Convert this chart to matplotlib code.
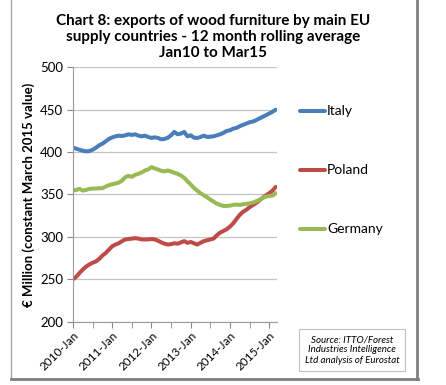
import matplotlib.pyplot as plt
from matplotlib.lines import Line2D
from matplotlib.patches import Rectangle

# Monthly 12-month rolling averages, Jan 2010 .. Mar 2015 (63 months)
italy = [405.2, 404.0, 402.8, 401.6, 400.9, 401.2, 402.8, 405.2, 408.0, 409.9,
         412.7, 415.5, 417.4, 418.6, 419.4, 419.0, 419.8, 421.0, 420.2, 421.0,
         419.4, 418.6, 419.4, 417.8, 416.7, 417.4, 416.7, 415.1, 415.5, 417.0,
         419.8, 423.8, 421.0, 421.8, 423.8, 418.6, 419.8, 417.0, 416.7, 417.8,
         419.4, 417.8, 418.2, 418.6, 419.8, 421.0, 422.6, 424.9, 425.7, 427.7,
         428.5, 430.5, 432.1, 433.6, 435.2, 436.0, 437.6, 439.6, 441.5, 443.5,
         445.5, 447.5, 450.0]
poland = [250.0, 253.0, 257.5, 261.5, 265.0, 267.5, 269.5, 271.0, 274.0, 278.0,
          281.0, 285.0, 289.0, 291.0, 292.5, 295.0, 297.0, 297.5, 298.0, 298.5,
          298.0, 297.0, 297.0, 297.0, 297.5, 297.0, 295.5, 293.5, 292.0, 291.0,
          291.5, 292.5, 292.0, 293.5, 295.0, 293.0, 294.0, 292.5, 291.0, 293.0,
          295.0, 296.0, 297.0, 298.0, 302.0, 305.0, 307.0, 309.0, 312.0, 316.0,
          321.0, 326.0, 329.5, 332.0, 335.0, 337.5, 340.0, 343.0, 346.0, 349.0,
          351.5, 354.5, 359.0]
germany = [354.6, 355.4, 356.6, 354.6, 355.4, 356.6, 357.0, 357.0, 357.4, 357.4,
           359.4, 361.0, 362.1, 363.0, 364.1, 366.5, 370.4, 372.0, 370.8, 373.2,
           374.4, 376.0, 378.3, 379.5, 382.3, 380.7, 379.5, 378.0, 377.2, 378.3,
           377.2, 375.6, 374.4, 372.4, 369.7, 365.7, 361.8, 357.8, 354.6, 351.5,
           349.1, 346.7, 344.0, 341.6, 339.2, 337.7, 336.5, 336.5, 336.9, 337.7,
           338.1, 337.7, 338.5, 338.9, 339.6, 340.4, 342.0, 343.6, 346.0, 347.5,
           348.3, 348.7, 351.5]
series_names = ["Italy", "Poland", "Germany"]
series_colors = ["#4a7ebb", "#be4b48", "#98b954"]
tick_labels = ["2010-Jan", "2011-Jan", "2012-Jan", "2013-Jan", "2014-Jan", "2015-Jan"]
months = list(range(len(italy)))

plt.rcParams['font.family'] = ['Lato', 'DejaVu Sans']

fig = plt.figure(figsize=(4.46, 3.85), dpi=100)
W, H = 446, 385
ax = fig.add_axes([73 / W, 1 - 321.7 / H, (277 - 73) / W, (321.7 - 67.3) / H])

for vals, name, col in zip([italy, poland, germany], series_names, series_colors):
    ax.plot(months, vals, color=col, lw=2.9, label=name, solid_capstyle='round')

ax.set_xlim(0, 62.4)
ax.set_ylim(200, 500)
ax.set_yticks(range(200, 501, 50))
ax.set_xticks(range(0, 61, 12))
ax.set_xticks(range(6, 61, 12), minor=True)
ax.set_xticklabels(tick_labels, rotation=45, ha='right', rotation_mode='anchor', fontsize=8.5)
ax.tick_params(axis='y', labelsize=9.5, length=4, color='#888888', pad=3)
ax.tick_params(axis='x', which='both', length=4, color='#888888', pad=2)
ax.grid(axis='y', color='#c4c4c4', lw=0.9)
ax.set_axisbelow(True)
for s in ['top', 'right']:
    ax.spines[s].set_visible(False)
for s in ['left', 'bottom']:
    ax.spines[s].set_color('#9a9a9a')

ax.set_ylabel("€ Million (constant March 2015 value)", fontsize=9.5, fontweight='bold', labelpad=4)

# legend entries placed beside their series like the original
leg_y = [111, 170, 229]
for name, col, yy in zip(series_names, series_colors, leg_y):
    fig.add_artist(Line2D([300 / W, 325 / W], [1 - yy / H, 1 - yy / H], color=col, lw=2.9,
                          solid_capstyle='round'))
    fig.text(327 / W, 1 - yy / H, name, fontsize=10, va='center', ha='left')

fig.text(213 / W, 1 - 37 / H,
         "Chart 8: exports of wood furniture by main EU\nsupply countries - 12 month rolling average\nJan10 to Mar15",
         ha='center', va='center', fontsize=11, fontweight='bold', linespacing=1.2)

# source box
fig.add_artist(Rectangle((299 / W, 1 - 371 / H), 106 / W, 42 / H, transform=fig.transFigure,
                         fill=False, ec='#c0c0c0', lw=0.8))
fig.text(352 / W, 1 - 350 / H, "Source: ITTO/Forest\nIndustries Intelligence\nLtd analysis of Eurostat",
         ha='center', va='center', fontsize=7, style='italic', linespacing=1.2)

# outer frame
fig.add_artist(Line2D([11 / W, 11 / W], [1 - 378 / H, 1.0], color='#a8a8a8', lw=1))
fig.add_artist(Line2D([417 / W, 417 / W], [1 - 379 / H, 1.0], color='#7f7f7f', lw=2))
fig.add_artist(Line2D([11 / W, 418 / W], [1 - 379 / H, 1 - 379 / H], color='#7f7f7f', lw=2))

fig.savefig("out.png", dpi=100)
